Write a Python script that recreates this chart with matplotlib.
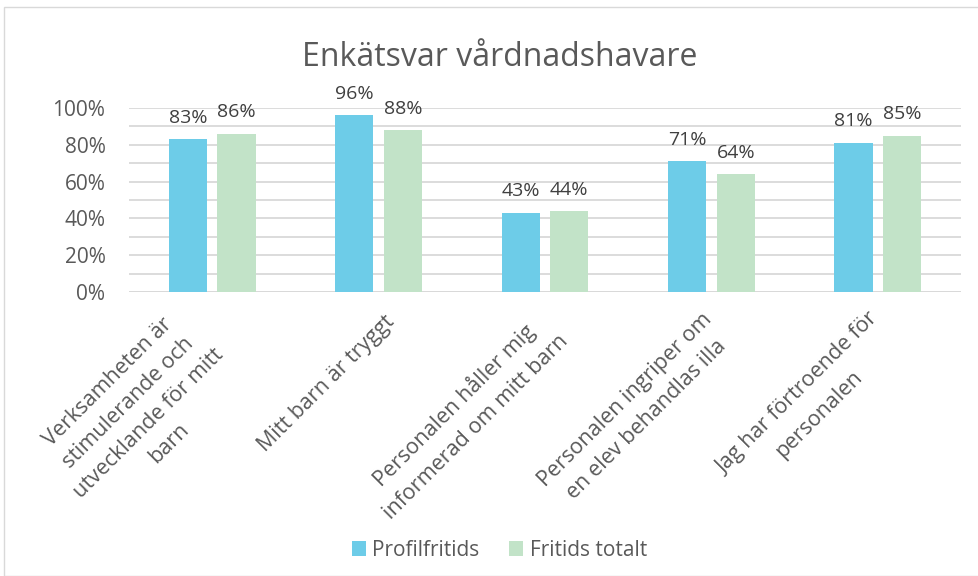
import numpy as np
import matplotlib as mpl
import matplotlib.pyplot as plt
from matplotlib.patches import Rectangle
from matplotlib.transforms import ScaledTranslation

mpl.rcParams["font.family"] = ["Open Sans", "DejaVu Sans"]

categories = [
    "Verksamheten är\nstimulerande och\nutvecklande för mitt\nbarn",
    "Mitt barn är tryggt",
    "Personalen håller mig\ninformerad om mitt barn",
    "Personalen ingriper om\nen elev behandlas illa",
    "Jag har förtroende för\npersonalen",
]
profilfritids = [0.83, 0.96, 0.43, 0.71, 0.81]
fritids_totalt = [0.86, 0.88, 0.44, 0.64, 0.85]
series_names = ["Profilfritids", "Fritids totalt"]
colors = ["#6DCCE8", "#C2E3C8"]

fig = plt.figure(figsize=(9.79, 5.76), dpi=100)
fig.patches.append(Rectangle((0.004, 0.0), 0.996, 0.988, transform=fig.transFigure,
                             fill=False, edgecolor="#D9D9D9", linewidth=1.0))
ax = fig.add_axes([0.1318, 0.4931, 0.8498, 0.3194])

x = np.arange(len(categories))
w = 0.23
off = 0.146
b1 = ax.bar(x - off, profilfritids, w, color=colors[0], label=series_names[0], zorder=3)
b2 = ax.bar(x + off, fritids_totalt, w, color=colors[1], label=series_names[1], zorder=3)

for bars in (b1, b2):
    for rect in bars:
        h = rect.get_height()
        ax.annotate(f"{h:.0%}", (rect.get_x() + rect.get_width() / 2, h),
                    xytext=(0, 9), textcoords="offset points",
                    ha="center", va="bottom", fontsize=14, color="#404040")

ax.set_xlim(-0.5, len(categories) - 0.5)
ax.set_ylim(0, 1.0)
ax.set_yticks(np.arange(0, 1.01, 0.2))
ax.set_yticks(np.arange(0, 1.01, 0.1), minor=True)
ax.set_yticklabels([f"{int(v * 100)}%" for v in np.arange(0, 1.01, 0.2)])
ax.grid(axis="y", which="both", color="#D9D9D9", linewidth=1.3, zorder=0)
ax.tick_params(axis="y", which="both", length=0, labelsize=15, labelcolor="#595959", pad=17)
ax.set_xticks(x, [])
ax.tick_params(axis="x", length=0)
for s in ax.spines.values():
    s.set_visible(False)
ax.axhline(0, color="#D9D9D9", linewidth=1.3, zorder=1)

# rotated category labels, wrapped blocks sit a bit further left/up (like Excel)
for xi, lab in zip(x, categories):
    n = lab.count("\n")
    shift = ScaledTranslation((4 - 11 * n) / 72, (-14 + 2 * n) / 72, fig.dpi_scale_trans)
    ax.text(xi, 0, lab, transform=ax.get_xaxis_transform() + shift,
            rotation=45, rotation_mode="anchor", ha="right", va="top",
            multialignment="center", linespacing=1.5,
            fontsize=15.5, color="#595959")

fig.suptitle("Enkätsvar vårdnadshavare", x=0.51, y=0.928, fontsize=23, color="#595959")

leg = fig.legend(handles=[b1, b2], labels=series_names, loc="center", bbox_to_anchor=(0.51, 0.045),
                 ncol=2, frameon=False, fontsize=15, handlelength=0.7, handleheight=0.7,
                 handletextpad=0.3, columnspacing=1.4)
for t in leg.get_texts():
    t.set_color("#595959")

fig.savefig("out.png", dpi=100)
